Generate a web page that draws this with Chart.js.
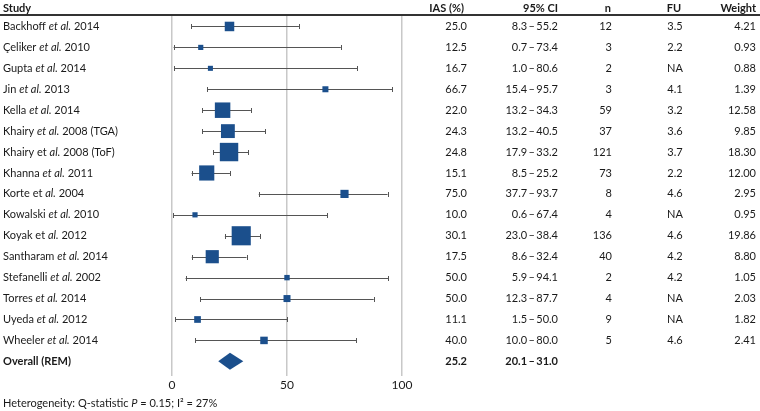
<!DOCTYPE html>
<html>
<head>
<meta charset="utf-8">
<script src="https://cdn.jsdelivr.net/npm/chart.js@4.4.1/dist/chart.umd.min.js"></script>
<style>
  html, body { margin: 0; padding: 0; background: #fff; }
  canvas { display: block; }
</style>
</head>
<body>
<canvas id="chart" width="760" height="411"></canvas>
<script>
// study labels, *...* marks italic
const studies = [
  "Backhoff *et al.* 2014",
  "Çeliker *et al.* 2010",
  "Gupta *et al.* 2014",
  "Jin *et al.* 2013",
  "Kella *et al.* 2014",
  "Khairy *et al.* 2008 (TGA)",
  "Khairy et *al.* 2008 (ToF)",
  "Khanna *et al.* 2011",
  "Korte et *al.* 2004",
  "Kowalski *et al.* 2010",
  "Koyak et *al.* 2012",
  "Santharam *et al.* 2014",
  "Stefanelli *et al.* 2002",
  "Torres *et al.* 2014",
  "Uyeda *et al.* 2012",
  "Wheeler *et al.* 2014"
];
const ias     = [25.0, 12.5, 16.7, 66.7, 22.0, 24.3, 24.8, 15.1, 75.0, 10.0, 30.1, 17.5, 50.0, 50.0, 11.1, 40.0];
const ciLow   = [8.3, 0.7, 1.0, 15.4, 13.2, 13.2, 17.9, 8.5, 37.7, 0.6, 23.0, 8.6, 5.9, 12.3, 1.5, 10.0];
const ciHigh  = [55.2, 73.4, 80.6, 95.7, 34.3, 40.5, 33.2, 25.2, 93.7, 67.4, 38.4, 32.4, 94.1, 87.7, 50.0, 80.0];
const nVals   = [12, 3, 2, 3, 59, 37, 121, 73, 8, 4, 136, 40, 2, 4, 9, 5];
const fu      = ["3.5", "2.2", "NA", "4.1", "3.2", "3.6", "3.7", "2.2", "4.6", "NA", "4.6", "4.2", "4.2", "NA", "NA", "4.6"];
const weights = [4.21, 0.93, 0.88, 1.39, 12.58, 9.85, 18.30, 12.00, 2.95, 0.95, 19.86, 8.80, 1.05, 2.03, 1.82, 2.41];
const overall = { label: "Overall (REM)", ias: 25.2, low: 20.1, high: 31.0 };
const xTicks = [0, 50, 100];

const FONT = 'Lato, "Open Sans", sans-serif';
const FS = 11;
const BLUE = '#1b4f8c';
const TXT = '#1a1a1a';

function drawRich(ctx, text, x, y, size, bold) {
  const parts = text.split('*');
  let cx = x;
  parts.forEach((p, k) => {
    const it = k % 2 === 1;
    ctx.font = (it ? 'italic ' : '') + (bold ? 'bold ' : '') + size + 'px ' + FONT;
    ctx.fillText(p, cx, y);
    cx += ctx.measureText(p).width;
  });
}

const forestPlugin = {
  id: 'forest',
  beforeDatasetsDraw(chart) {
    const { ctx, scales: { x, y } } = chart;
    ctx.save();
    ctx.strokeStyle = '#555';
    ctx.lineWidth = 1;
    ias.forEach((v, i) => {
      const py = Math.round(y.getPixelForValue(i)) + 0.5;
      const x1 = x.getPixelForValue(ciLow[i]);
      const x2 = x.getPixelForValue(ciHigh[i]);
      ctx.beginPath();
      ctx.moveTo(x1, py); ctx.lineTo(x2, py);
      ctx.moveTo(Math.round(x1) + 0.5, py - 2.5); ctx.lineTo(Math.round(x1) + 0.5, py + 2.5);
      ctx.moveTo(Math.round(x2) + 0.5, py - 2.5); ctx.lineTo(Math.round(x2) + 0.5, py + 2.5);
      ctx.stroke();
    });
    // overall diamond
    const oy = y.getPixelForValue(studies.length);
    ctx.fillStyle = BLUE;
    ctx.beginPath();
    ctx.moveTo(x.getPixelForValue(overall.low), oy);
    ctx.lineTo(x.getPixelForValue(overall.ias), oy - 8.5);
    ctx.lineTo(x.getPixelForValue(overall.high), oy);
    ctx.lineTo(x.getPixelForValue(overall.ias), oy + 8.5);
    ctx.closePath();
    ctx.fill();
    ctx.restore();
  },
  afterDraw(chart) {
    const { ctx, scales: { y } } = chart;
    ctx.save();
    ctx.fillStyle = TXT;
    ctx.textBaseline = 'middle';
    // header
    const hy = 8;
    ctx.font = 'bold ' + FS + 'px ' + FONT;
    ctx.textAlign = 'left';
    ctx.fillText('Study', 3, hy);
    ctx.textAlign = 'right';
    ctx.fillText('IAS (%)', 464, hy);
    ctx.fillText('95% CI', 558, hy);
    ctx.fillText('n', 611, hy);
    ctx.fillText('Weight', 756, hy);
    ctx.textAlign = 'center';
    ctx.fillText('FU', 674, hy);
    ctx.strokeStyle = '#333';
    ctx.lineWidth = 2;
    ctx.beginPath();
    ctx.moveTo(0, 15); ctx.lineTo(760, 15);
    ctx.stroke();

    // rows
    studies.forEach((s, i) => {
      const py = y.getPixelForValue(i);
      ctx.textAlign = 'left';
      drawRich(ctx, s, 3, py, FS, false);
      ctx.font = FS + 'px ' + FONT;
      ctx.textAlign = 'right';
      ctx.fillText(ias[i].toFixed(1), 467, py);
      ctx.fillText(ciLow[i].toFixed(1) + '\u2009\u2013\u2009' + ciHigh[i].toFixed(1), 558, py);
      ctx.fillText(String(nVals[i]), 612, py);
      ctx.fillText(weights[i].toFixed(2), 756, py);
      ctx.textAlign = 'center';
      ctx.fillText(fu[i], 675, py);
    });
    const oy = y.getPixelForValue(studies.length);
    ctx.font = 'bold ' + FS + 'px ' + FONT;
    ctx.textAlign = 'left';
    ctx.fillText(overall.label, 3, oy);
    ctx.textAlign = 'right';
    ctx.fillText(overall.ias.toFixed(1), 467, oy);
    ctx.fillText(overall.low.toFixed(1) + '\u2009\u2013\u2009' + overall.high.toFixed(1), 558, oy);

    // footnote
    ctx.textAlign = 'left';
    drawRich(ctx, 'Heterogeneity: Q-statistic *P* = 0.15; I\u00b2 = 27%', 3, 403, FS, false);
    ctx.restore();
  }
};

const side = w => 1.3 + 4 * Math.sqrt(w);

new Chart(document.getElementById('chart'), {
  type: 'scatter',
  data: {
    datasets: [{
      data: ias.map((v, i) => ({ x: v, y: i })),
      pointStyle: 'rect',
      pointRadius: weights.map(w => side(w) / Math.SQRT2),
      backgroundColor: BLUE,
      borderWidth: 0
    }]
  },
  options: {
    responsive: false,
    animation: false,
    devicePixelRatio: 1,
    layout: { padding: { left: 172, right: 358, top: 16, bottom: 15 } },
    plugins: { legend: { display: false }, tooltip: { enabled: false } },
    scales: {
      x: {
        type: 'linear', min: 0, max: 100,
        afterBuildTicks: axis => { axis.ticks = xTicks.map(v => ({ value: v })); },
        afterFit: axis => { axis.height = 20; },
        ticks: { color: TXT, font: { family: FONT, size: 12 }, padding: 2 },
        grid: { color: '#c8c8c8', lineWidth: 1.5, drawTicks: false },
        border: { display: false }
      },
      y: {
        type: 'linear', min: -0.5, max: 16.7, reverse: true, display: false
      }
    }
  },
  plugins: [forestPlugin]
});
</script>
</body>
</html>
